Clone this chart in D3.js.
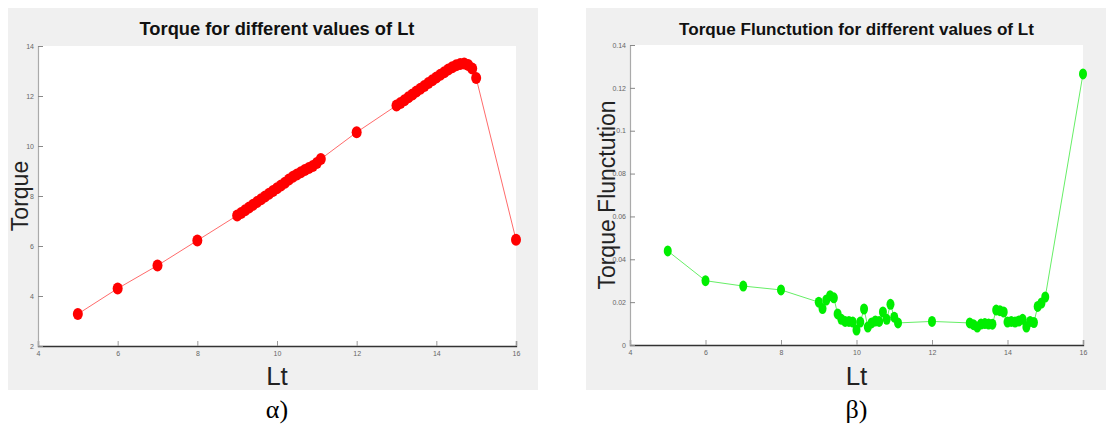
<!DOCTYPE html>
<html>
<head>
<meta charset="utf-8">
<script src="https://cdn.jsdelivr.net/npm/d3@7"></script>
<style>
  body { margin: 0; background: #fff; }
  svg { display: block; }
</style>
</head>
<body>
<div id="chart"></div>
<script>
// Torque and torque fluctuation against Lt — two panels side by side

// Panel α : torque
const torqueLt = [5, 6, 7, 8,
  9.0, 9.1, 9.2, 9.3, 9.4, 9.5, 9.6, 9.7, 9.8, 9.9, 10.0, 10.1, 10.2, 10.3, 10.4, 10.5, 10.6, 10.7, 10.8, 10.9, 11.0, 11.1,
  12,
  13.0, 13.1, 13.2, 13.3, 13.4, 13.5, 13.6, 13.7, 13.8, 13.9, 14.0, 14.1, 14.2, 14.3, 14.4, 14.5, 14.6, 14.7, 14.8, 14.9,
  15, 16];
const torqueVal = [3.28, 4.30, 5.22, 6.22,
  7.22, 7.32, 7.43, 7.54, 7.65, 7.76, 7.87, 7.98, 8.09, 8.20, 8.31, 8.42, 8.53, 8.66, 8.77, 8.86, 8.95, 9.04, 9.12, 9.20, 9.32, 9.48,
  10.55,
  11.62, 11.72, 11.83, 11.95, 12.06, 12.18, 12.29, 12.40, 12.52, 12.63, 12.74, 12.85, 12.95, 13.06, 13.15, 13.23, 13.28, 13.30, 13.24, 13.10,
  12.72, 6.25];

// Panel β : torque fluctuation
const fluctLt = [5, 6, 7, 8,
  9.0, 9.1, 9.2, 9.3, 9.4, 9.5, 9.6, 9.7, 9.8, 9.9, 10.0, 10.1, 10.2, 10.3, 10.4, 10.5, 10.6, 10.7, 10.8, 10.9, 11.0, 11.1,
  12,
  13.0, 13.1, 13.2, 13.3, 13.4, 13.5, 13.6, 13.7, 13.8, 13.9, 14.0, 14.1, 14.2, 14.3, 14.4, 14.5, 14.6, 14.7, 14.8, 14.9, 15.0,
  16];
const fluctVal = [0.0439, 0.0300, 0.0275, 0.0257,
  0.0200, 0.0170, 0.0210, 0.0230, 0.0220, 0.0145, 0.0120, 0.0110, 0.0110, 0.0107, 0.0070, 0.0107, 0.0168, 0.0084, 0.0103, 0.0112, 0.0110, 0.0154, 0.0120, 0.0190, 0.0130, 0.0103,
  0.0110,
  0.0103, 0.0095, 0.0084, 0.0098, 0.0100, 0.0098, 0.0097, 0.0163, 0.0160, 0.0154, 0.0107, 0.0110, 0.0107, 0.0112, 0.0120, 0.0084, 0.0110, 0.0105, 0.0180, 0.0196, 0.0224,
  0.1265];

const xTicks = [4, 6, 8, 10, 12, 14, 16];
const torqueTicks = [2, 4, 6, 8, 10, 12, 14];
const fluctTicks = [0, 0.02, 0.04, 0.06, 0.08, 0.1, 0.12, 0.14];

const W = 1110, H = 426;
const svg = d3.select("#chart").append("svg").attr("width", W).attr("height", H);

const panels = [
  {
    box: [8, 8, 530, 382],
    plot: { x0: 38, x1: 516, y0: 46, y1: 346 },
    xs: torqueLt, ys: torqueVal, yDomain: [2, 14], yTicks: torqueTicks, yFmt: d => d,
    title: "Torque for different values of Lt", titleLen: 275,
    ylabel: "Torque", ylabelX: 20,
    letter: "α)",
    marker: "#ff0000", line: "#ff6b6b", rx: 5, ry: 6
  },
  {
    box: [586, 8, 520, 382],
    plot: { x0: 630, x1: 1083, y0: 45, y1: 345 },
    xs: fluctLt, ys: fluctVal, yDomain: [0, 0.14], yTicks: fluctTicks, yFmt: d => d === 0 ? "0" : d3.format(".2~f")(d),
    title: "Torque Flunctution for different values of Lt", titleLen: 355,
    ylabel: "Torque Flunctution", ylabelX: 607,
    letter: "β)",
    marker: "#00ee00", line: "#66ee66", rx: 4, ry: 5.5
  }
];

panels.forEach(p => {
  const [bx, by, bw, bh] = p.box;
  const { x0, x1, y0, y1 } = p.plot;
  const cx = (x0 + x1) / 2;

  // fond gris de la figure
  svg.append("rect")
    .attr("x", bx).attr("y", by).attr("width", bw).attr("height", bh)
    .attr("fill", "#f0f0f0");

  // zone des axes en blanc
  svg.append("rect")
    .attr("x", x0).attr("y", y0).attr("width", x1 - x0).attr("height", y1 - y0)
    .attr("fill", "#fff");

  const x = d3.scaleLinear().domain([4, 16]).range([x0, x1]);
  const y = d3.scaleLinear().domain(p.yDomain).range([y1, y0]);

  // axe x, graduations vers l'intérieur
  const gx = svg.append("g").attr("transform", `translate(0,${y1})`)
    .call(d3.axisBottom(x).tickValues(xTicks).tickSize(-5).tickPadding(5).tickFormat(d => d));
  gx.select(".domain").attr("stroke", "#333").attr("stroke-width", 1.3);
  gx.selectAll(".tick line").attr("stroke", "#999");
  gx.selectAll(".tick text").attr("fill", "#666").style("font-size", "7px")
    .style("font-family", "Liberation Sans, Arial, sans-serif");

  // axe y
  const gy = svg.append("g").attr("transform", `translate(${x0},0)`)
    .call(d3.axisLeft(y).tickValues(p.yTicks).tickSize(-5).tickPadding(4).tickFormat(p.yFmt));
  gy.select(".domain").attr("stroke", "#aaa").attr("stroke-width", 1.2);
  gy.selectAll(".tick line").attr("stroke", "#888");
  gy.selectAll(".tick text").attr("fill", "#666").style("font-size", "7px")
    .style("font-family", "Liberation Sans, Arial, sans-serif");

  // données
  const pts = p.xs.map((v, i) => ({ x: v, y: p.ys[i] }));
  const line = d3.line().x(d => x(d.x)).y(d => y(d.y));

  svg.append("path")
    .datum(pts)
    .attr("d", line)
    .attr("fill", "none")
    .attr("stroke", p.line)
    .attr("stroke-width", 1);

  svg.append("g").selectAll("ellipse")
    .data(pts)
    .join("ellipse")
    .attr("cx", d => x(d.x))
    .attr("cy", d => y(d.y))
    .attr("rx", p.rx)
    .attr("ry", p.ry)
    .attr("fill", p.marker);

  // titre : taille ajustée à la largeur
  const title = svg.append("text")
    .attr("x", cx).attr("y", 35)
    .attr("text-anchor", "middle")
    .style("font-family", "Liberation Sans Narrow, Arial Narrow, sans-serif")
    .style("font-weight", "bold")
    .style("font-size", "22px")
    .attr("fill", "#111")
    .text(p.title);
  const natural = title.node().getComputedTextLength();
  if (natural > 0) title.style("font-size", (22 * p.titleLen / natural).toFixed(2) + "px");

  // titre de l'axe y
  svg.append("text")
    .attr("transform", `translate(${p.ylabelX + 8},${(y0 + y1) / 2}) rotate(-90)`)
    .attr("text-anchor", "middle")
    .style("font-family", "Liberation Sans, Arial, sans-serif")
    .style("font-size", "23px")
    .attr("fill", "#222")
    .text(p.ylabel);

  // titre de l'axe x
  svg.append("text")
    .attr("x", cx).attr("y", 385)
    .attr("text-anchor", "middle")
    .style("font-family", "Liberation Sans, Arial, sans-serif")
    .style("font-size", "26px")
    .attr("fill", "#222")
    .text("Lt");

  // lettre de la sous-figure
  svg.append("text")
    .attr("x", cx).attr("y", 418)
    .attr("text-anchor", "middle")
    .style("font-family", "Liberation Serif, Times New Roman, serif")
    .style("font-size", "26px")
    .attr("fill", "#000")
    .text(p.letter);
});
</script>
</body>
</html>
